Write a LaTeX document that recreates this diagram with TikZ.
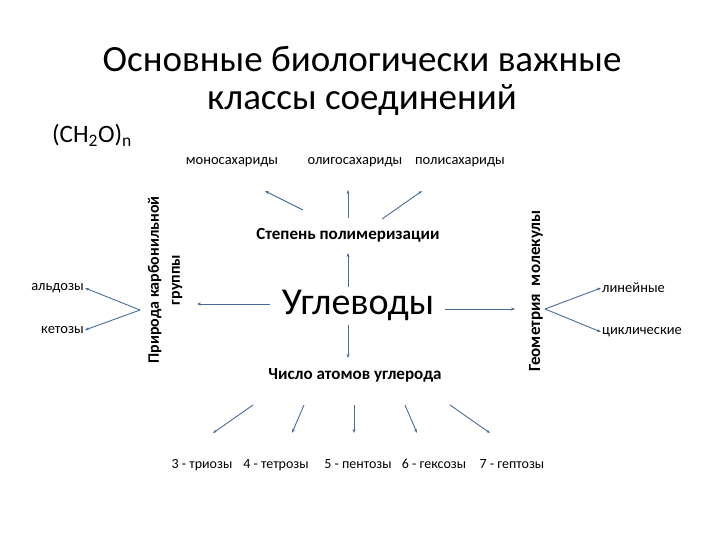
\documentclass[tikz,border=0pt]{standalone}
\usepackage{fontspec}
\setmainfont{Carlito}
\usetikzlibrary{arrows.meta}
\definecolor{arr}{HTML}{4A6A9C}
\begin{document}
\begin{tikzpicture}[x=1pt,y=-1pt,
  ar/.style={draw=arr,line width=0.9pt,-{Stealth[length=4pt,width=3pt]}},
  sm/.style={font=\fontsize{14.5}{16}\selectfont,inner sep=1pt},
  bot/.style={font=\fontsize{14}{16}\selectfont,inner sep=1pt,anchor=base},
  bd/.style={font=\fontsize{17}{19}\selectfont\bfseries,inner sep=1pt}]
\useasboundingbox (0,0) rectangle (720,540);
\node[font=\fontsize{37}{38}\selectfont,align=center] (title) at (362,81) {Основные биологически важные\\классы соединений};
\node[font=\fontsize{25}{28}\selectfont] (f) at (92,135) {(CH\textsubscript{2}O)\textsubscript{n}};
\node[sm] (mono) at (232,162) {моносахариды};
\node[sm] (oligo) at (355,162) {олигосахариды};
\node[sm] (poly) at (460,162) {полисахариды};
\node[bd] (st) at (348,235) {Степень полимеризации};
\node[font=\fontsize{38}{40}\selectfont,inner sep=2pt] (ug) at (358,305) {Углеводы};
\node[bd] (ch) at (355,375) {Число атомов углерода};
\node[font=\fontsize{16}{21}\selectfont\bfseries,inner sep=1pt,rotate=90,align=center] (pr) at (165,280) {Природа карбонильной\\группы};
\node[bd,rotate=90] (ge) at (536,291) {Геометрия\ \ молекулы};
\node[sm,anchor=east] (al) at (85,288) {альдозы};
\node[sm,anchor=east] (ke) at (85,330) {кетозы};
\node[sm,anchor=west] (li) at (601,288) {линейные};
\node[sm,anchor=west] (cy) at (601,332) {циклические};
\node[bot] (b3) at (202,468) {3 - триозы};
\node[bot] (b4) at (276,468) {4 - тетрозы};
\node[bot] (b5) at (358,468) {5 - пентозы};
\node[bot] (b6) at (434,468) {6 - гексозы};
\node[bot] (b7) at (512,468) {7 - гептозы};
\coordinate (pl) at (140,310);
\coordinate (gr) at (545,309);
\draw[ar] (303,210) -- (265,191);
\draw[ar] (348,218) -- (348,190);
\draw[ar] (382,219) -- (422,191);
\draw[ar] (348,287) -- (348,253);
\draw[ar] (348,325) -- (348,358);
\draw[ar] (270,304) -- (197,304);
\draw[ar] (445,309) -- (515,309);
\draw[ar] (pl) -- (al.east);
\draw[ar] (pl) -- (ke.east);
\draw[ar] (gr) -- (li.west);
\draw[ar] (gr) -- (cy.west);
\draw[ar] (253,405) -- (213,433);
\draw[ar] (304,405) -- (292,433);
\draw[ar] (354,405) -- (354,433);
\draw[ar] (405,405) -- (417,433);
\draw[ar] (450,405) -- (490,433);
\end{tikzpicture}
\end{document}
